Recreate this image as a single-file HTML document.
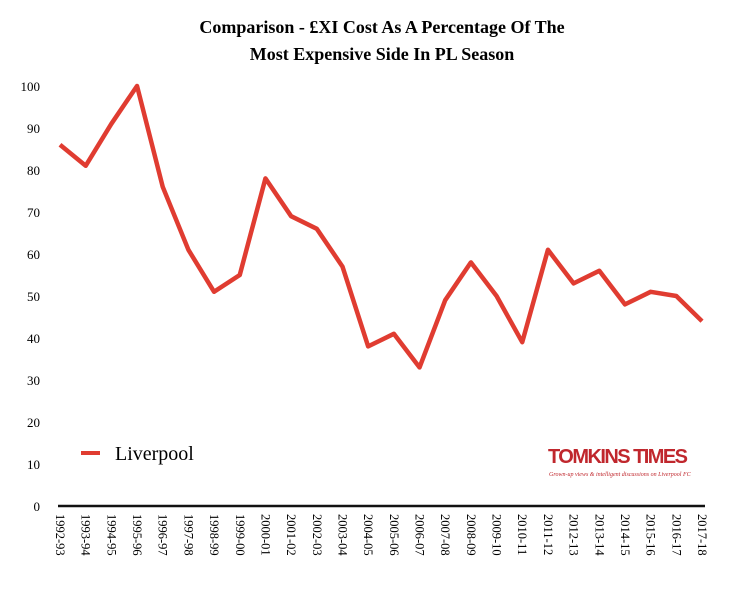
<!DOCTYPE html>
<html><head><meta charset="utf-8"><style>
body{margin:0;background:#fff;}
svg{display:block;font-family:"Liberation Serif",serif;}
</style></head><body>
<svg id="chart" width="730" height="600">
<text x="382" y="33" text-anchor="middle" font-size="18" font-weight="bold">Comparison - £XI Cost As A Percentage Of The</text>
<text x="382" y="60" text-anchor="middle" font-size="18" font-weight="bold">Most Expensive Side In PL Season</text>
<g id="yaxis"></g>
<g id="xaxis"></g>
<g id="series"></g>
<g>
<line x1="81" y1="453" x2="100" y2="453" stroke="#e03c31" stroke-width="4"/>
<text x="115" y="460" font-size="20">Liverpool</text>
</g>
<g>
<text x="548" y="463" font-size="20" font-weight="bold" fill="#c0272d" font-family="Liberation Sans Narrow, Liberation Sans, sans-serif" textLength="140">TOMKINS  TIMES</text>
<text x="549" y="476" font-size="6" font-style="italic" fill="#c0272d">Grown-up views &amp; intelligent discussions on Liverpool FC</text>
</g>
</svg>
<script>
const categories=["1992-93","1993-94","1994-95","1995-96","1996-97","1997-98","1998-99","1999-00","2000-01","2001-02","2002-03","2003-04","2004-05","2005-06","2006-07","2007-08","2008-09","2009-10","2010-11","2011-12","2012-13","2013-14","2014-15","2015-16","2016-17","2017-18"];
const liverpool=[86,81,91,100,76,61,51,55,78,69,66,57,38,41,33,49,58,50,39,61,53,56,48,51,50,44];
const yTicks=[0,10,20,30,40,50,60,70,80,90,100];
const NS="http://www.w3.org/2000/svg";
const x0=60,x1=702,y0=506,y100=86;
function xs(i){return x0+(x1-x0)*i/(categories.length-1);}
function ys(v){return y0+(y100-y0)*v/100;}
function mk(t,a,p){const e=document.createElementNS(NS,t);for(const k in a)e.setAttribute(k,a[k]);p.appendChild(e);return e;}
const ya=document.getElementById('yaxis'),xa=document.getElementById('xaxis'),se=document.getElementById('series');
yTicks.forEach(v=>{const t=mk('text',{x:40,y:ys(v)+5,'text-anchor':'end','font-size':13},ya);t.textContent=v;

});
const ax=mk('line',{x1:58,y1:y0,x2:705,y2:y0,stroke:'#111','stroke-width':2.5},xa);


categories.forEach((c,i)=>{const t=mk('text',{transform:`translate(${xs(i)-4},514) rotate(90)`,'font-size':12.5},xa);t.textContent=c;

});
const pl=mk('polyline',{points:liverpool.map((v,i)=>xs(i)+','+ys(v)).join(' '),fill:'none',stroke:'#e03c31','stroke-width':4.5,'stroke-linejoin':'round'},se);


</script>
</body></html>
